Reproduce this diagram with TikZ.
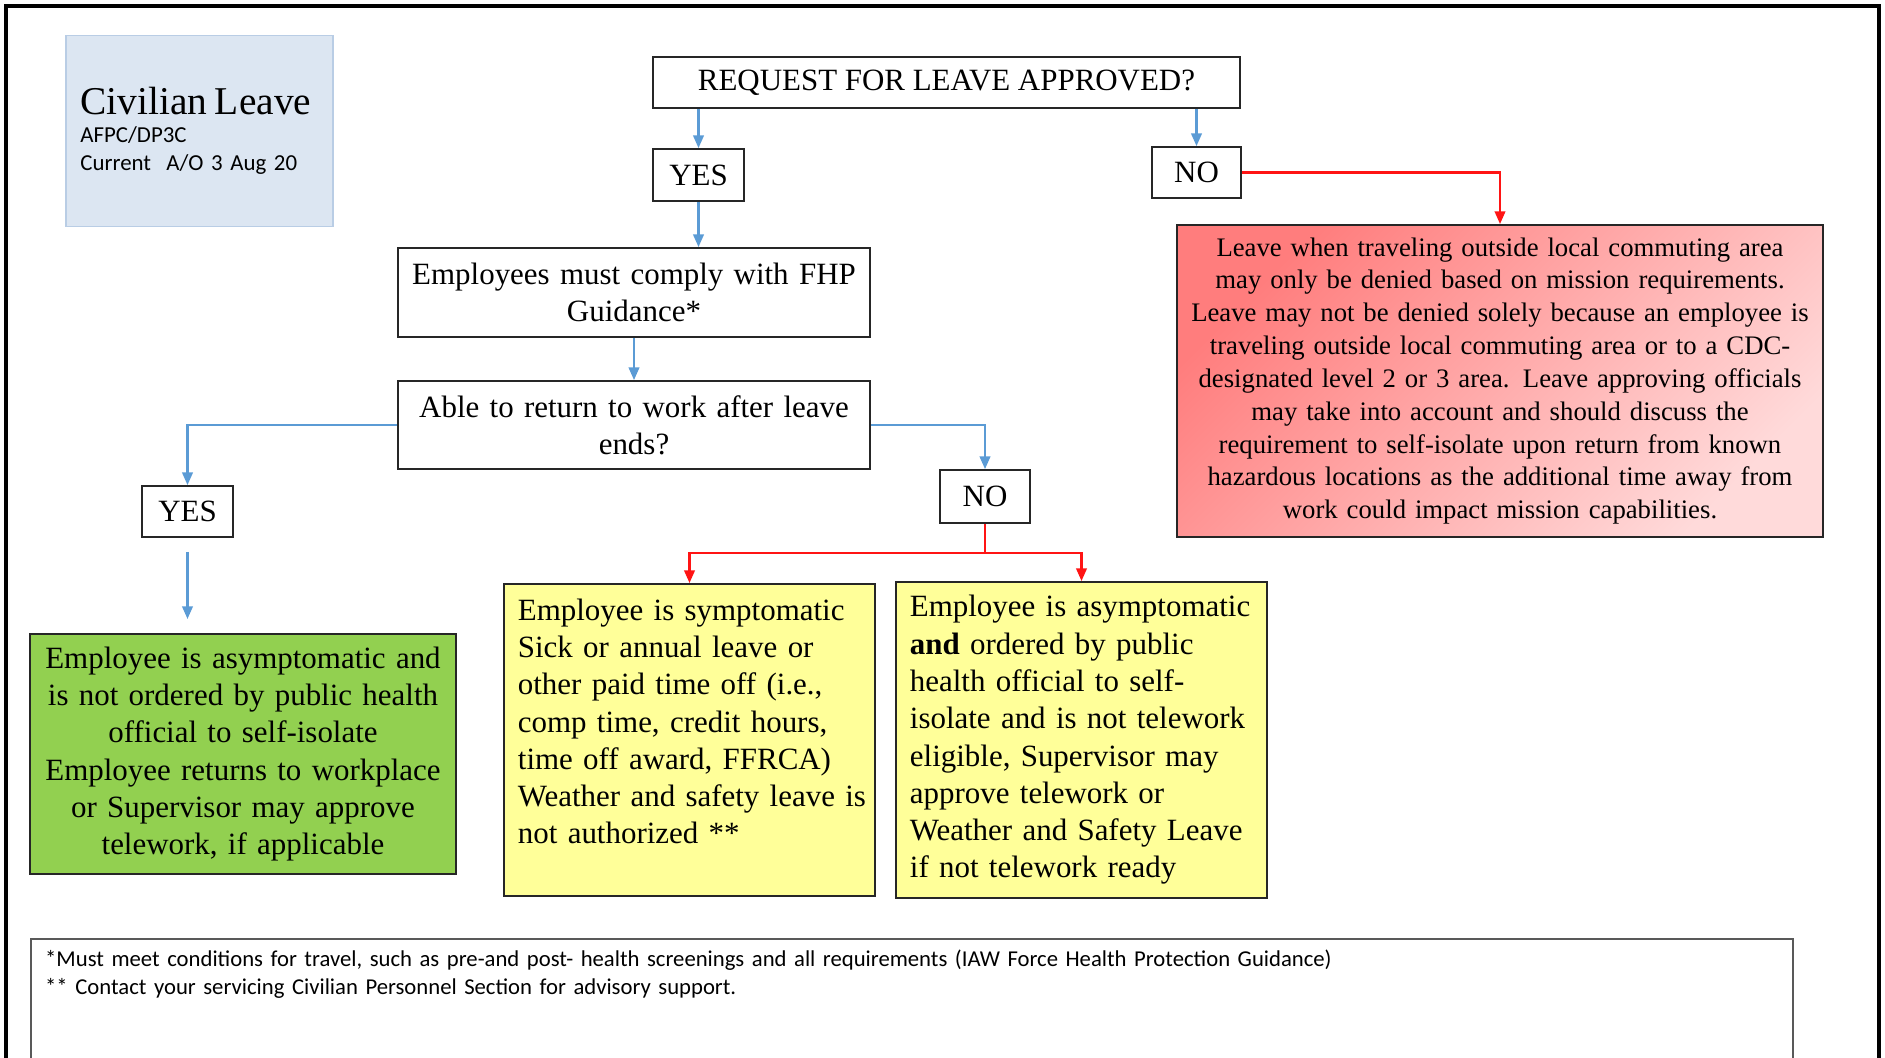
\documentclass[tikz,border=0pt]{standalone}
\usepackage{fontspec}
\setmainfont{Liberation Serif}
\newfontfamily\calibri{Carlito}
\usepackage{tikz}
\definecolor{white}{rgb}{1.0, 1.0, 1.0}
\definecolor{black}{rgb}{0.0, 0.0, 0.0}
\definecolor{lineblue}{RGB}{91,155,213}
\definecolor{linered}{RGB}{255,20,20}
\definecolor{lgreen}{RGB}{146,208,80}
\definecolor{lyellow}{RGB}{255,255,153}
\definecolor{titlefill}{RGB}{220,230,242}
\definecolor{titledraw}{RGB}{185,205,229}
\definecolor{pinkdark}{RGB}{255,125,125}
\definecolor{pinklight}{RGB}{255,218,218}
\usetikzlibrary{arrows.meta}
\pgfdeclarelayer{edgelayer}
\pgfdeclarelayer{nodelayer}
\pgfsetlayers{edgelayer,nodelayer,main}
\tikzstyle{node}=[rectangle,fill=white,draw=black!85,line width=0.5pt,inner sep=0pt,
  font=\fontsize{8.8}{10.6}\selectfont]
\tikzstyle{blueedge}=[->,draw=lineblue,line width=0.6pt]
\tikzstyle{rededge}=[->,draw=linered,line width=0.6pt]

\begin{document}
\begin{tikzpicture}[x=0.01cm,y=-0.01cm,>={Triangle[length=3.6pt,width=3pt]}]
            \useasboundingbox (0,0) rectangle (1885,1058);
            \draw [line width=0.9pt] (6,1100) -- (6,6) -- (1879,6) -- (1879,1100);

            \begin{pgfonlayer}{nodelayer}
            \node [style = node, fill=titlefill, draw=titledraw, minimum width=2.67cm, minimum height=1.91cm,
              text width=2.38cm, align=left, font=\calibri\fontsize{6.5}{7.9}\selectfont] (title) at (199.5, 131)
              {{\rmfamily\fontsize{11.2}{7.9}\selectfont\mbox{Civilian Leave}}\\AFPC/DP3C\\Current~~A/O 3 Aug 20};

            \node [style = node, minimum width=5.87cm, minimum height=0.51cm] (req) at (946.5, 82.5) {REQUEST FOR LEAVE APPROVED?};
            \node [style = node, minimum width=0.91cm, minimum height=0.52cm] (yes1) at (698.5, 175) {YES};
            \node [style = node, minimum width=0.89cm, minimum height=0.51cm] (no1) at (1196.5, 172.5) {NO};

            \node [style = node, minimum width=4.72cm, minimum height=0.89cm, text width=4.5cm, align=center] (fhp) at (634, 292.5)
              {Employees must comply with FHP\\Guidance*};
            \node [style = node, minimum width=4.72cm, minimum height=0.88cm, text width=4.5cm, align=center] (able) at (634, 425)
              {Able to return to work after leave\\ends?};

            \node [style = node, minimum width=0.91cm, minimum height=0.51cm] (yes2) at (187.5, 511.5) {YES};
            \node [style = node, minimum width=0.90cm, minimum height=0.53cm] (no2) at (985, 496.5) {NO};

            \node [style = node, fill=lgreen, minimum width=4.26cm, minimum height=2.40cm, text width=4.1cm, align=center] (fit) at (243, 754)
              {Employee is asymptomatic and\\is not ordered by public health\\official to self-isolate\\
               Employee returns to workplace\\or Supervisor may approve\\telework, if applicable};

            \node [style = node, fill=lyellow, minimum width=3.71cm, minimum height=3.12cm, text width=3.43cm, align=left] (sick) at (689.5, 740)
              {Employee is symptomatic\\Sick or annual leave or\\other paid time off (i.e.,\\comp time, credit hours,\\
               time off award, FFRCA)\\\mbox{Weather and safety leave is}\\not authorized **\\ \mbox{}};
            \node [style = node, fill=lyellow, minimum width=3.71cm, minimum height=3.16cm, text width=3.43cm, align=left] (isolate) at (1081.5, 740)
              {Employee is asymptomatic\\\textbf{and} ordered by public\\health official to self-\\isolate and is not telework\\
               eligible, Supervisor may\\approve telework or\\Weather and Safety Leave\\if not telework ready};

            \node [style = node, top color=pinkdark, bottom color=pinklight, shading angle=45,
              minimum width=6.46cm, minimum height=3.12cm, text width=6.3cm, align=center,
              font=\fontsize{7.6}{9.33}\selectfont] (denied) at (1500, 381)
              {Leave when traveling outside local commuting area\\may only be denied based on mission requirements.\\
               Leave may not be denied solely because an employee is\\traveling outside local commuting area or to a CDC-\\
               designated level 2 or 3 area. Leave approving officials\\may take into account and should discuss the\\
               requirement to self-isolate upon return from known\\hazardous locations as the additional time away from\\
               work could impact mission capabilities.};

            \node [style = node, draw=black!65, anchor=north west, minimum width=17.61cm, minimum height=1.8cm] (notebox) at (30, 938) {};
            \node [anchor=north west, inner sep=0pt, text width=17.3cm, align=left,
              font=\calibri\fontsize{6.45}{7.9}\selectfont] (notes) at (44.5, 949.5)
              {*Must meet conditions for travel, such as pre-and post- health screenings and all requirements (IAW Force Health Protection Guidance)\\
               {}** Contact your servicing Civilian Personnel Section for advisory support.};
            \end{pgfonlayer}

        \begin{pgfonlayer}{edgelayer}
            \coordinate (split) at (985, 553);

            \draw [style = blueedge] (yes1.north |- req.south) to (yes1.north);
            \draw [style = blueedge] (no1.north |- req.south) to (no1.north);
            \draw [style = blueedge] (yes1.south) to (yes1.south |- fhp.north);
            \draw [style = blueedge] (fhp.south) to (able.north);
            \draw [style = blueedge] (able.west) -| (yes2.north);
            \draw [style = blueedge] (able.east) -| (no2.north);
            \draw [style = blueedge, shorten <=4pt, shorten >=4pt] (yes2.south) to (yes2.south |- fit.north);

            \draw [style = rededge, -] (no2.south) to (split);
            \draw [style = rededge] (split) -| (sick.north);
            \draw [style = rededge] (split) -| (isolate.north);
            \draw [style = rededge] (no1.east) -| (denied.north);
        \end{pgfonlayer}
    \end{tikzpicture}
\end{document}
